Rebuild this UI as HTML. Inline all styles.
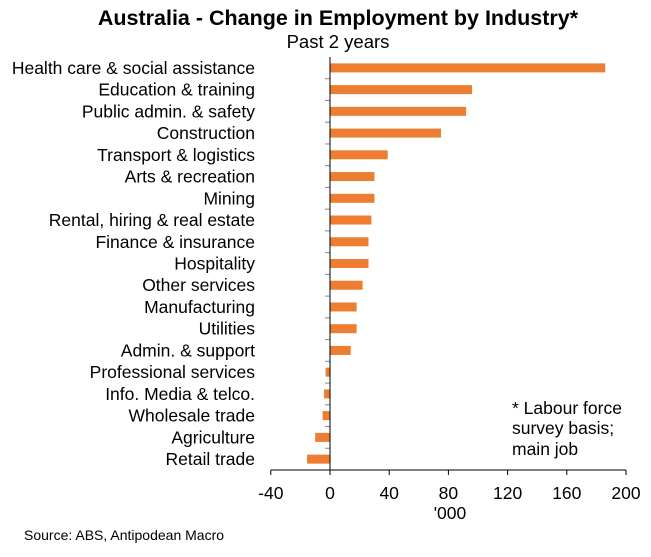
<!DOCTYPE html>
<html><head><meta charset="utf-8"><style>
body{margin:0;background:#fff;}
svg text{font-family:"Liberation Sans",Arial,sans-serif;fill:#000;}
</style></head><body>
<svg width="651" height="552" xmlns="http://www.w3.org/2000/svg">
<text x="338" y="25" text-anchor="middle" font-size="21.5" font-weight="bold">Australia - Change in Employment by Industry*</text>
<text x="338" y="48" text-anchor="middle" font-size="18.5">Past 2 years</text>
<g id="plot"></g>
<text x="512" y="414" font-size="17.5">* Labour force</text>
<text x="512" y="434" font-size="17.5">survey basis;</text>
<text x="512" y="455" font-size="17.5">main job</text>
<text x="450" y="519" text-anchor="middle" font-size="17.5">'000</text>
<text x="24" y="540" font-size="14">Source: ABS, Antipodean Macro</text>
</svg>
<script>
const categories=["Health care & social assistance","Education & training","Public admin. & safety","Construction","Transport & logistics","Arts & recreation","Mining","Rental, hiring & real estate","Finance & insurance","Hospitality","Other services","Manufacturing","Utilities","Admin. & support","Professional services","Info. Media & telco.","Wholesale trade","Agriculture","Retail trade"];
const values=[186,96,92,75,39,30,30,28,26,26,22,18,18,14,-3,-4,-5,-10,-15.5];
const ticks=[-40,0,40,80,120,160,200];
const NS="http://www.w3.org/2000/svg";
const plotG=document.getElementById('plot');
const xs=v=>330+(v)*1.48;
const plotTop=57,plotBot=470,band=(plotBot-plotTop)/categories.length;
const ys=i=>plotTop+band*(i+0.5);
function mk(t,a){const e=document.createElementNS(NS,t);for(const k in a)e.setAttribute(k,a[k]);plotG.appendChild(e);return e;}
categories.forEach((c,i)=>{
  const v=values[i];
  const r=mk('rect',{x:Math.min(xs(0),xs(v)),y:ys(i)-4.5,width:Math.abs(xs(v)-xs(0)),height:9,fill:'#ED7D31'});
  
  
  const t=mk('text',{x:255,y:ys(i)+6,'text-anchor':'end','font-size':17.5});
  t.textContent=c;
  
  
});
for(let i=1;i<categories.length;i++){
  const l=mk('line',{x1:325,x2:330,y1:plotTop+band*i,y2:plotTop+band*i,stroke:'#888','stroke-width':1});
  
  
}
const ya=mk('line',{x1:330,x2:330,y1:plotTop,y2:plotBot,stroke:'#000','stroke-width':1});


const xa=mk('line',{x1:xs(ticks[0]),x2:xs(ticks[ticks.length-1]),y1:plotBot,y2:plotBot,stroke:'#000','stroke-width':1});


ticks.forEach(v=>{
  const l=mk('line',{x1:xs(v),x2:xs(v),y1:plotBot,y2:plotBot+5,stroke:'#000','stroke-width':1});
  
  
  const t=mk('text',{x:xs(v),y:499,'text-anchor':'middle','font-size':17.5});
  t.textContent=v;
  
  
});
</script>
</body></html>
